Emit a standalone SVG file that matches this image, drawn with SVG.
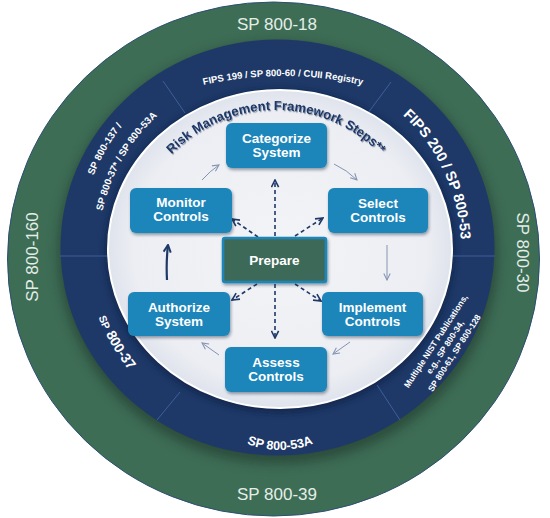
<svg xmlns="http://www.w3.org/2000/svg" width="550" height="518" viewBox="0 0 550 518">
<defs>
<style>
.grn{font-family:"Liberation Sans",Arial,sans-serif;font-size:17px;fill:#e4eee7;}
.ring{font-family:"Liberation Sans",Arial,sans-serif;font-weight:bold;fill:#ffffff;}
.box{fill:#1f86ba;filter:url(#boxShadow);}
.bt{font-family:"Liberation Sans",Arial,sans-serif;font-weight:bold;font-size:13.5px;fill:#ffffff;text-anchor:middle;}
.div{stroke:#3d5f9c;stroke-width:1;}
.dash{fill:none;stroke:#1e3968;stroke-width:1.6;stroke-dasharray:4 3;marker-end:url(#chevN);}
.thin{fill:none;stroke:#8593b3;stroke-width:1;marker-end:url(#chevG);}
.thick{fill:none;stroke:#1e3968;stroke-width:2.2;marker-end:url(#chevT);}
</style>
<filter id="blur6" x="-20%" y="-20%" width="140%" height="140%"><feGaussianBlur stdDeviation="6"/></filter>
<filter id="blur4" x="-20%" y="-20%" width="140%" height="140%"><feGaussianBlur stdDeviation="3"/></filter>
<filter id="boxShadow" x="-20%" y="-20%" width="140%" height="160%"><feDropShadow dx="1" dy="2" stdDeviation="1.5" flood-color="#1a2a44" flood-opacity="0.45"/></filter>
<filter id="txtShadow" x="-10%" y="-10%" width="120%" height="130%"><feDropShadow dx="1" dy="1.2" stdDeviation="0.7" flood-color="#4a5470" flood-opacity="0.55"/></filter>
<radialGradient id="lightG" cx="50%" cy="50%" r="50%">
<stop offset="0" stop-color="#f3f4f7"/><stop offset="0.85" stop-color="#eceef3"/><stop offset="1" stop-color="#dfe3ec"/>
</radialGradient>
<marker id="chevN" viewBox="0 0 10 10" refX="9" refY="5" markerWidth="9" markerHeight="9" markerUnits="userSpaceOnUse" orient="auto"><path d="M1,1 L9,5 L1,9" fill="none" stroke="#1e3968" stroke-width="1.8"/></marker>
<marker id="chevG" viewBox="0 0 10 10" refX="9" refY="5" markerWidth="8" markerHeight="8" markerUnits="userSpaceOnUse" orient="auto"><path d="M1,1 L9,5 L1,9" fill="none" stroke="#8593b3" stroke-width="1.3"/></marker>
<marker id="chevT" viewBox="0 0 10 10" refX="9" refY="5" markerWidth="9" markerHeight="9" markerUnits="userSpaceOnUse" orient="auto"><path d="M1,1 L9,5 L1,9" fill="none" stroke="#1e3968" stroke-width="2.2"/></marker>
<path id="pTop" d="M108,122.9 A350,350 0 0 1 458,122.9"/>
<path id="pRisk" d="M150.4,182.5 A145,145 0 0 1 401.6,182.5"/>
<path id="pF200" d="M355.3,83.1 A183,183 0 0 1 454.8,296.4"/>
<path id="pL1" d="M82.5,283.5 A198.5,198.5 0 0 1 210.1,62.5"/>
<path id="pL2" d="M101.2,280.2 A179.5,179.5 0 0 1 216.6,80.3"/>
<path id="p37" d="M88.9,215.7 A192,192 0 0 0 212.3,429.4"/>
<path id="p53A" d="M202.1,405 A90,90 0 0 0 357.9,405"/>
</defs>

<g id="outer-ring">
<ellipse cx="273.5" cy="259" rx="266" ry="257" fill="#3e6d56" stroke="#2c4f72" stroke-width="1"/>
<ellipse cx="278" cy="253" rx="220" ry="211" fill="#1c3226" opacity="0.55" filter="url(#blur6)"/>
<text class="grn" x="277" y="30" text-anchor="middle">SP 800-18</text>
<text class="grn" x="277" y="500" text-anchor="middle">SP 800-39</text>
<text class="grn" text-anchor="middle" transform="translate(38,257) rotate(-90)">SP 800-160</text>
<text class="grn" text-anchor="middle" transform="translate(517,252.5) rotate(90)">SP 800-30</text>
</g>

<g id="middle-ring">
<ellipse cx="277.5" cy="247.5" rx="217" ry="208" fill="#1e3968"/>
<ellipse cx="280" cy="251" rx="175" ry="162" fill="#0f1f3d" opacity="0.6" filter="url(#blur4)"/>
<line class="div" x1="60" y1="256" x2="108" y2="256"/>
<line class="div" x1="452" y1="256" x2="495" y2="256"/>
<line class="div" x1="163" y1="81" x2="185" y2="113"/>
<line class="div" x1="391" y1="82" x2="368" y2="113"/>
<line class="div" x1="157" y1="420" x2="180" y2="392"/>
<line class="div" x1="400" y1="420" x2="377" y2="385"/>
<text class="ring" font-size="9.5"><textPath href="#pTop" startOffset="50%" text-anchor="middle">FIPS 199 / SP 800-60 / CUII Registry</textPath></text>
<text class="ring" font-size="14.5"><textPath href="#pF200" startOffset="50%" text-anchor="middle">FIPS 200 / SP 800-53</textPath></text>
<text class="ring" font-size="9.8"><textPath href="#pL1" startOffset="50%" text-anchor="middle">SP 800-137 /</textPath></text>
<text class="ring" font-size="9.8"><textPath href="#pL2" startOffset="50%" text-anchor="middle">SP 800-37* / SP 800-53A</textPath></text>
<text class="ring" font-size="14"><textPath href="#p37" startOffset="50%" text-anchor="middle"><tspan font-size="10.5">SP</tspan> 800-37</textPath></text>
<text class="ring" font-size="12.5"><textPath href="#p53A" startOffset="50%" text-anchor="middle">SP 800-53A</textPath></text>
<g transform="translate(445,347) rotate(-57)">
<text class="ring" font-size="8.5" text-anchor="middle" x="0" y="-8">Multiple NIST Publications,</text>
<text class="ring" font-size="8.5" text-anchor="middle" x="0" y="3">e.g., SP 800-34,</text>
<text class="ring" font-size="8.5" text-anchor="middle" x="0" y="14">SP 800-61, SP 800-128</text>
</g>
</g>

<g id="inner-disk">
<ellipse cx="280" cy="249" rx="172" ry="159" fill="url(#lightG)" stroke="#ffffff" stroke-width="2"/>
<text font-family="'Liberation Sans',Arial,sans-serif" font-weight="bold" font-size="13" fill="#1e3968" filter="url(#txtShadow)"><textPath href="#pRisk" startOffset="50%" text-anchor="middle">Risk Management Framework Steps**</textPath></text>
</g>

<g id="connectors">
<path class="dash" d="M275,236 L275,180"/>
<path class="dash" d="M275,284 L275,338"/>
<path class="dash" d="M258,237 L232,219"/>
<path class="dash" d="M295,236 L323,218"/>
<path class="dash" d="M257,284 L232,300"/>
<path class="dash" d="M295,284 L321,301"/>
<path class="thin" d="M334,164 Q347,170 357,180"/>
<path class="thin" d="M387,245 L387,280"/>
<path class="thin" d="M350,342 L333,354"/>
<path class="thin" d="M219,355 L202,343"/>
<path class="thin" d="M202,180 Q210,171 219,165"/>
<path class="thick" d="M167,280 Q166,262 168,245"/>
</g>

<g id="categorize">
<rect class="box" x="226" y="123" width="101" height="45" rx="6"/>
<text class="bt" x="276.5" y="143">Categorize</text>
<text class="bt" x="276.5" y="157">System</text>
</g>
<g id="select">
<rect class="box" x="328" y="188" width="100" height="45" rx="6"/>
<text class="bt" x="378" y="208">Select</text>
<text class="bt" x="378" y="222">Controls</text>
</g>
<g id="monitor">
<rect class="box" x="130" y="188" width="102" height="45" rx="6"/>
<text class="bt" x="181" y="207">Monitor</text>
<text class="bt" x="181" y="221">Controls</text>
</g>
<g id="prepare">
<rect x="223" y="238" width="103" height="44" rx="2" fill="#3d6b58" stroke="#1f86ba" stroke-width="2.5" filter="url(#boxShadow)"/>
<text class="bt" x="274.5" y="265" fill="#e8eef0">Prepare</text>
</g>
<g id="authorize">
<rect class="box" x="128" y="292" width="102" height="44" rx="6"/>
<text class="bt" x="179" y="312">Authorize</text>
<text class="bt" x="179" y="326">System</text>
</g>
<g id="implement">
<rect class="box" x="322" y="292" width="101" height="44" rx="6"/>
<text class="bt" x="372.5" y="312">Implement</text>
<text class="bt" x="372.5" y="326">Controls</text>
</g>
<g id="assess">
<rect class="box" x="225" y="347" width="102" height="45" rx="6"/>
<text class="bt" x="276" y="367">Assess</text>
<text class="bt" x="276" y="381">Controls</text>
</g>
</svg>
